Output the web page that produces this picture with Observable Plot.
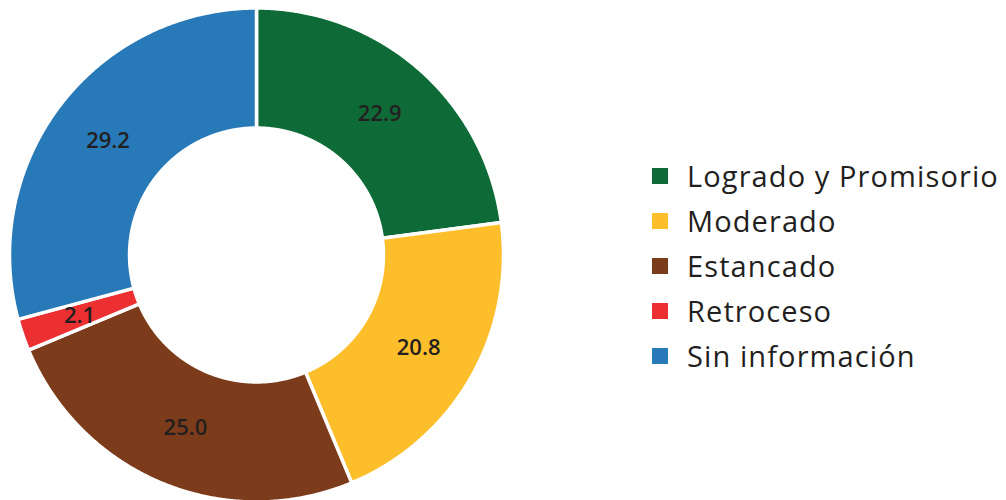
<!DOCTYPE html>
<html><head><meta charset="utf-8">
<script src="https://cdn.jsdelivr.net/npm/d3@7"></script>
<script src="https://cdn.jsdelivr.net/npm/@observablehq/plot@0.6"></script>
<style>
body{margin:0;background:#fff;}
#wrap{position:relative;width:1006px;height:500px;overflow:hidden;}
#legend{position:absolute;left:652px;top:153px;font-family:"Open Sans",sans-serif;font-size:29px;letter-spacing:1.1px;color:#231f20;}
.row{display:flex;align-items:center;height:45px;}
.sw{width:16px;height:16px;margin-right:19px;flex:none;}
</style></head><body><div id="wrap"></div>
<script>
const categories = ["Logrado y Promisorio","Moderado","Estancado","Retroceso","Sin información"];
const values = [22.9, 20.8, 25.0, 2.1, 29.2];
const labels = ["22.9","20.8","25.0","2.1","29.2"];
const colors = ["#0e6b37","#fcbe2a","#7c3b1a","#ec3032","#2879b8"];

const innerR = 0.514, outerR = 1.0;
const data = categories.map((c,i)=>({cat:c, value:values[i], label:labels[i]}));
const arcs = d3.pie().sort(null).value(d=>d.value)(data);

const pts = [];
for (const a of arcs) {
  const n = Math.max(4, Math.ceil((a.endAngle - a.startAngle) / 0.005));
  const ring = [];
  for (let k=0;k<=n;k++){ const t = a.startAngle + (a.endAngle-a.startAngle)*k/n; ring.push([outerR*Math.sin(t), outerR*Math.cos(t)]); }
  for (let k=n;k>=0;k--){ const t = a.startAngle + (a.endAngle-a.startAngle)*k/n; ring.push([innerR*Math.sin(t), innerR*Math.cos(t)]); }
  ring.push(ring[0]);
  for (const [x,y] of ring) pts.push({cat:a.data.cat, x, y});
}
const midR = (innerR+outerR)/2;
const labs = arcs.map(a=>{const t=(a.startAngle+a.endAngle)/2; return {label:a.data.label, x:midR*Math.sin(t), y:midR*Math.cos(t)};});

const chart = Plot.plot({
  width: 1006, height: 500,
  x: {domain:[-1,1], range:[9,503], axis:null},
  y: {domain:[-1,1], range:[501.5,7.5], axis:null},
  color: {domain: categories, range: colors},
  style: {background:"white", overflow:"visible"},
  marks: [
    Plot.line(pts, {x:"x", y:"y", z:"cat", fill:"cat", stroke:"white", strokeWidth:3.5, curve:"linear"}),
    Plot.text(labs, {x:"x", y:"y", text:"label", fill:"#231f20", fontSize:22, fontFamily:"Open Sans", fontWeight:600})
  ]
});
const wrap = document.getElementById("wrap");
wrap.appendChild(chart);
const legend = document.createElement("div");
legend.id = "legend";
categories.forEach((c,i)=>{
  const row = document.createElement("div"); row.className="row";
  const sw = document.createElement("div"); sw.className="sw"; sw.style.background=colors[i];
  const tx = document.createElement("span"); tx.textContent=c;
  row.appendChild(sw); row.appendChild(tx); legend.appendChild(row);
});
wrap.appendChild(legend);
</script></body></html>
